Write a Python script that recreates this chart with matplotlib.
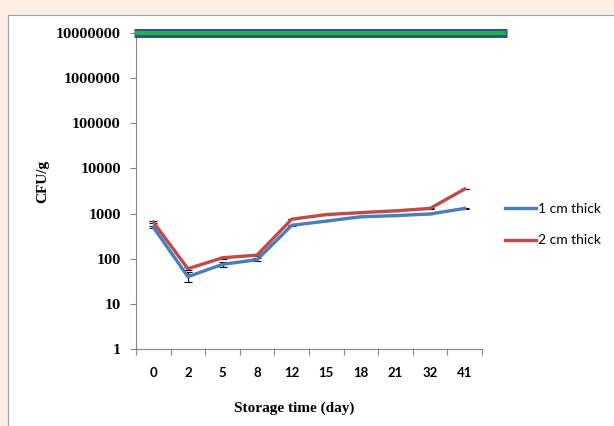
import matplotlib
matplotlib.use('Agg')
import matplotlib.pyplot as plt
from matplotlib.patches import Rectangle
from matplotlib.lines import Line2D
from matplotlib.ticker import FixedLocator, NullFormatter, FuncFormatter
import numpy as np

# Data
DAYS = ['0', '2', '5', '8', '12', '15', '18', '21', '32', '41']
CFU_1CM = [500, 40, 75, 95, 550, 680, 850, 900, 980, 1300]
CFU_2CM = [650, 60, 105, 120, 750, 950, 1050, 1150, 1300, 3500]
ERR_1CM = [30, 10, 8, 8, 10, 10, 10, 10, 15, 15]
ERR_2CM = [40, 4, 5, 5, 10, 10, 10, 10, 20, 30]
SERIES_NAMES = ['1 cm thick', '2 cm thick']
BAND_LEVEL = 1e7

BLUE = '#4A7EBB'
RED = '#BE4B48'
AXIS_GREY = '#868686'
SERIF = 'Liberation Serif'
SANS = 'Lato'


def draw_panel(fig):
    """ Peach page with the white chart panel on top.
    """
    fig.patch.set_facecolor('#FCEEE3')
    panel = Rectangle((8 / 614, -0.1), 1.2, 1 - 15 / 426 + 0.1,
                      transform=fig.transFigure, facecolor='white',
                      edgecolor='#A0A0A0', linewidth=0.8, zorder=-5)
    fig.patches.append(panel)


def plot_counts():
    """ Plot the bacterial counts of both thicknesses.
    """
    fig = plt.figure(figsize=(6.14, 4.26), dpi=100)
    draw_panel(fig)

    ax = fig.add_axes([136 / 614, 1 - 349 / 426, 346 / 614, 316 / 426])
    ax.set_facecolor('none')
    x = np.arange(len(DAYS))

    # Band at the top of the chart
    ax.plot([-0.56, 10.22], [BAND_LEVEL, BAND_LEVEL], color='#34527A',
            linewidth=6.5, solid_capstyle='butt', clip_on=False, zorder=3)
    ax.plot([-0.52, 10.18], [BAND_LEVEL, BAND_LEVEL], color='#1DAF5A',
            linewidth=3, solid_capstyle='butt', clip_on=False, zorder=4)

    # Series with error bars
    for vals, errs, color in [(CFU_1CM, ERR_1CM, BLUE),
                              (CFU_2CM, ERR_2CM, RED)]:
        ax.errorbar(x, vals, yerr=errs, color=color, linewidth=2.4,
                    ecolor='black', elinewidth=0.8, capsize=3, capthick=0.8,
                    zorder=2)

    # Y axis
    ax.set_yscale('log')
    ax.set_ylim(1, 1e7)
    ax.yaxis.set_major_locator(FixedLocator([10 ** i for i in range(8)]))
    ax.yaxis.set_minor_locator(FixedLocator([]))
    ax.yaxis.set_major_formatter(FuncFormatter(lambda v, p: '%d' % round(v)))
    ax.set_ylabel('CFU/g', fontsize=11, fontweight='bold', family=SERIF)
    ax.yaxis.set_label_coords(-0.25, 0.53)

    # X axis, ticks between categories
    ax.set_xlim(-0.5, len(DAYS) - 0.5)
    ax.xaxis.set_major_locator(FixedLocator(np.arange(len(DAYS) + 1) - 0.5))
    ax.xaxis.set_major_formatter(NullFormatter())
    ax.xaxis.set_minor_locator(FixedLocator(x))
    ax.set_xticklabels(DAYS, minor=True)
    ax.set_xlabel('Storage time (day)', fontsize=11, fontweight='bold',
                  family=SERIF)
    ax.xaxis.set_label_coords(0.457, -0.165)

    # Both axes
    for side in ['top', 'right']:
        ax.spines[side].set_visible(False)
    for side in ['left', 'bottom']:
        ax.spines[side].set_color(AXIS_GREY)
        ax.spines[side].set_linewidth(0.8)
    ax.tick_params(axis='both', which='major', direction='out', length=4,
                   color=AXIS_GREY, width=0.8)
    ax.tick_params(axis='y', labelsize=8.5, pad=7)
    ax.tick_params(axis='x', which='minor', length=0, labelsize=9.5, pad=13)
    for lbl in ax.get_yticklabels():
        lbl.set_family('DejaVu Serif')
        lbl.set_fontweight('bold')
    for lbl in ax.get_xticklabels(minor=True):
        lbl.set_family(SANS)
        lbl.set_fontweight('bold')

    # Legend to the right
    handles = [Line2D([], [], color=c, linewidth=2.4) for c in [BLUE, RED]]
    ax.legend(handles, SERIES_NAMES, loc='upper left',
              bbox_to_anchor=(505 / 614, 1 - 203 / 426),
              bbox_transform=fig.transFigure, frameon=False, borderpad=0,
              borderaxespad=0, handlelength=2.2, handletextpad=0.2,
              labelspacing=1.4, prop={'family': SANS, 'size': 10})

    fig.savefig('out.png', dpi=100, facecolor=fig.get_facecolor())


plot_counts()
